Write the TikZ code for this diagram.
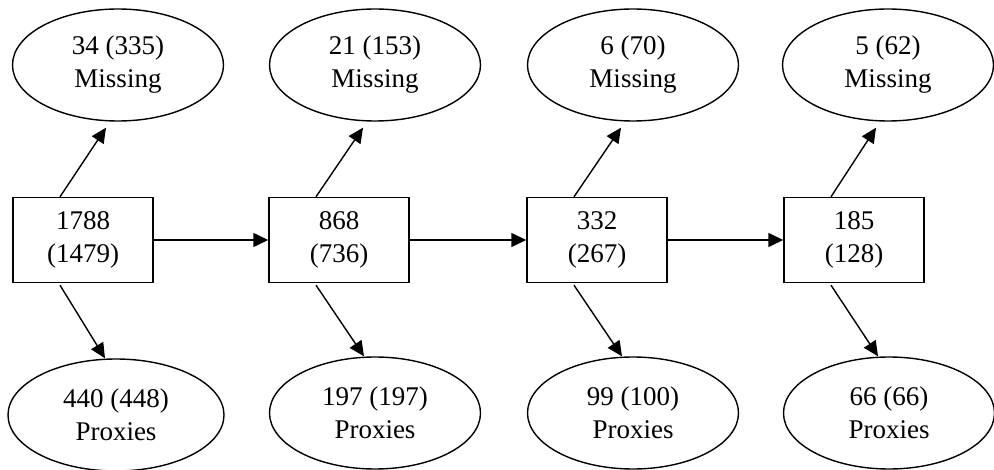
\documentclass[tikz,border=0pt]{standalone}
\usepackage{fontspec}
\setmainfont{Liberation Serif}
\usetikzlibrary{shapes.geometric,arrows.meta}
\tikzset{
  boxnode/.style={draw, line width=1.4pt, rectangle, minimum width=140pt, minimum height=85pt, inner sep=0pt, align=center, font=\fontsize{27}{33}\selectfont},
  ellnode/.style={draw, line width=1.4pt, ellipse, minimum width=211pt, minimum height=112pt, inner sep=0pt, align=center, font=\fontsize{27}{33}\selectfont},
  arr/.style={line width=1.4pt, -{Triangle[length=15pt,width=14pt]}}
}
\begin{document}
\begin{tikzpicture}[x=1pt,y=-1pt]
\useasboundingbox (0,0) rectangle (994,470);
% boxes
\node[boxnode] (b1) at (83,240) {1788\\(1479)};
\node[boxnode] (b2) at (339,240) {868\\(736)};
\node[boxnode] (b3) at (597,240) {332\\(267)};
\node[boxnode] (b4) at (854,240) {185\\(128)};
% missing ellipses
\node[ellnode] (m1) at (118,65) {34 (335)\\Missing};
\node[ellnode] (m2) at (375,65) {21 (153)\\Missing};
\node[ellnode] (m3) at (633,65) {6 (70)\\Missing};
\node[ellnode] (m4) at (888,65) {5 (62)\\Missing};
% proxies ellipses
\node[ellnode, minimum width=216pt] (p1) at (116,415) {440 (448)\\Proxies};
\node[ellnode] (p2) at (375,413) {197 (197)\\Proxies};
\node[ellnode] (p3) at (633,413) {99 (100)\\Proxies};
\node[ellnode] (p4) at (889,413) {66 (66)\\Proxies};
% horizontal arrows
\draw[arr] (b1.east) -- (b2.west);
\draw[arr] (b2.east) -- (b3.west);
\draw[arr] (b3.east) -- (b4.west);
% diagonal arrows
\foreach \i in {1,2,3,4}{
  \draw[arr] ([xshift=-23pt]b\i.north) -- ([xshift=-12pt,yshift=-6pt]m\i.south);
  \draw[arr] ([xshift=-23pt,yshift=-2pt]b\i.south) -- ([xshift=-11pt]p\i.north);
}
\end{tikzpicture}
\end{document}
